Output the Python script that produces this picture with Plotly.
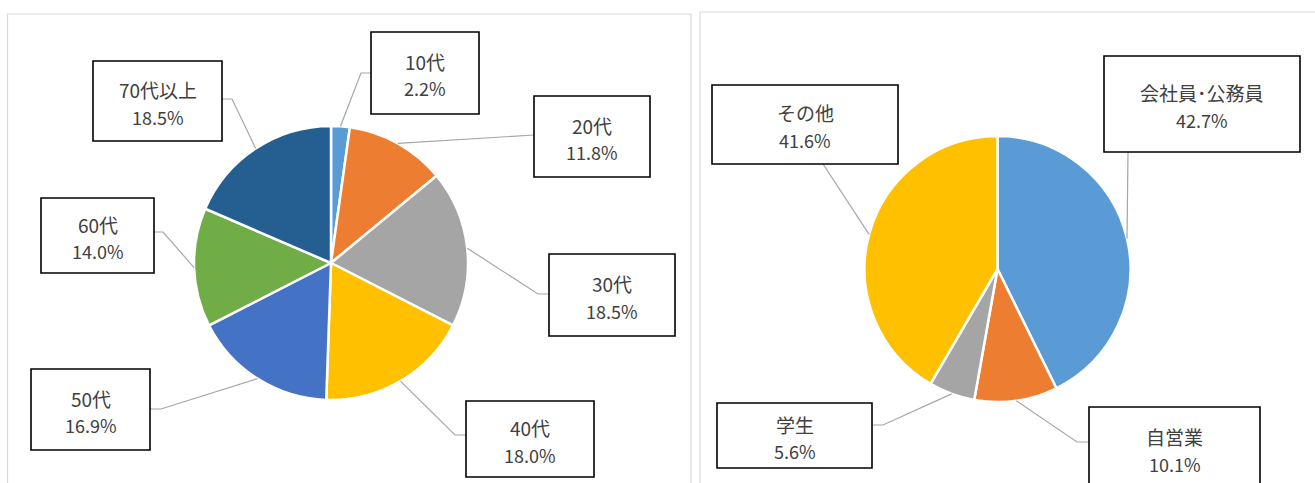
import math
import plotly.graph_objects as go

# ---------------- data ----------------
age_labels = ["10代", "20代", "30代", "40代", "50代", "60代", "70代以上"]
age_values = [2.2, 11.8, 18.5, 18.0, 16.9, 14.0, 18.5]
age_colors = ["#5B9BD5", "#ED7D31", "#A5A5A5", "#FFC000", "#4472C4", "#70AD47", "#255E91"]

occ_labels = ["会社員･公務員", "自営業", "学生", "その他"]
occ_values = [42.7, 10.1, 5.6, 41.6]
occ_colors = ["#5B9BD5", "#ED7D31", "#A5A5A5", "#FFC000"]

# ---------------- layout constants (pixels) ----------------
W, H = 1315, 483
FONT = "Noto Sans CJK JP"
TXT = "#404040"

pie1 = dict(cx=331, cy=263, r=137)
pie2 = dict(cx=997.5, cy=269, r=133)

# label boxes (x0, y0, x1, y1), elbow point, attach point on box
age_boxes = [
    ((371, 32, 479, 114), (361, 73), (371, 73)),
    ((534, 96, 650, 177), None, (534, 135)),
    ((549, 254, 675, 336), (538, 294), (549, 294)),
    ((466, 401, 594, 477), (455, 435), (466, 435)),
    ((31, 369, 150, 450), (161, 409), (150, 409)),
    ((41, 198, 154, 273), (163, 232), (154, 232)),
    ((93, 61, 222, 141), (232, 99), (222, 99)),
]
occ_boxes = [
    ((1104, 56, 1300, 152), None, (1128, 152)),
    ((1089, 407, 1260, 495), (1077, 442), (1089, 442)),
    ((717, 403, 872, 468), (883, 425), (872, 425)),
    ((712, 85, 898, 164), None, (823, 164)),
]


def px(x):
    return x / W


def py(y):
    return 1 - y / H


def domain(p):
    return dict(x=[px(p["cx"] - p["r"]), px(p["cx"] + p["r"])],
                y=[py(p["cy"] + p["r"]), py(p["cy"] - p["r"])])


fig = go.Figure()
fig.add_trace(go.Pie(labels=age_labels, values=age_values, sort=False,
                     direction="clockwise", rotation=0, textinfo="none",
                     marker=dict(colors=age_colors, line=dict(color="white", width=2.5)),
                     domain=domain(pie1), showlegend=False, hoverinfo="label+percent"))
fig.add_trace(go.Pie(labels=occ_labels, values=occ_values, sort=False,
                     direction="clockwise", rotation=0, textinfo="none",
                     marker=dict(colors=occ_colors, line=dict(color="white", width=2.5)),
                     domain=domain(pie2), showlegend=False, hoverinfo="label+percent"))

shapes = []
annotations = []

# panel borders
shapes.append(dict(type="rect", xref="paper", yref="paper",
                   x0=px(7.5), x1=px(691), y0=py(495), y1=py(14),
                   line=dict(color="#D9D9D9", width=1.2), fillcolor="rgba(0,0,0,0)", layer="below"))
shapes.append(dict(type="rect", xref="paper", yref="paper",
                   x0=px(700), x1=px(1330), y0=py(495), y1=py(12),
                   line=dict(color="#D9D9D9", width=1.2), fillcolor="rgba(0,0,0,0)", layer="below"))


def add_labels(p, labels, values, boxes):
    total = sum(values)
    cum = 0.0
    for lab, v, (box, elbow, attach) in zip(labels, values, boxes):
        mid = (cum + v / 2) / total * 2 * math.pi
        cum += v
        sx = p["cx"] + p["r"] * math.sin(mid)
        sy = p["cy"] - p["r"] * math.cos(mid)
        pts = [(sx, sy)]
        if elbow is not None:
            pts.append(elbow)
        pts.append(attach)
        path = "M " + " L ".join(f"{px(x)},{py(y)}" for x, y in pts)
        shapes.append(dict(type="path", xref="paper", yref="paper", path=path,
                           line=dict(color="#A6A6A6", width=1.2)))
        x0, y0, x1, y1 = box
        shapes.append(dict(type="rect", xref="paper", yref="paper",
                           x0=px(x0), x1=px(x1), y0=py(y1), y1=py(y0),
                           line=dict(color="black", width=1.6), fillcolor="white"))
        cx = (x0 + x1) / 2
        cy = (y0 + y1) / 2 if y1 <= 483 else y0 + 41
        for txt, dy, fs in ((lab, -11.5, 19), (f"{v:.1f}%", 15.5, 18)):
            annotations.append(dict(xref="paper", yref="paper", x=px(cx), y=py(cy + dy),
                                    text=txt, showarrow=False, xanchor="center", yanchor="middle",
                                    font=dict(family=FONT, size=fs, color=TXT)))


add_labels(pie1, age_labels, age_values, age_boxes)
add_labels(pie2, occ_labels, occ_values, occ_boxes)

fig.update_layout(width=W, height=H, margin=dict(l=0, r=0, t=0, b=0),
                  paper_bgcolor="white", plot_bgcolor="white",
                  shapes=shapes, annotations=annotations,
                  font=dict(family=FONT))

fig.write_html("out.html")
